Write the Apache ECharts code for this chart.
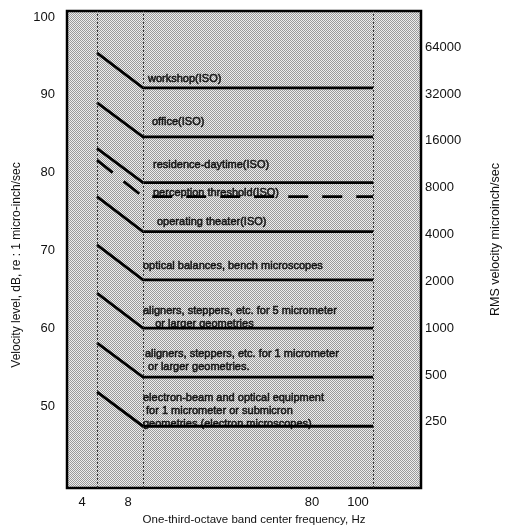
<!DOCTYPE html>
<html>
<head>
<meta charset="utf-8">
<script src="https://cdn.jsdelivr.net/npm/echarts@6/dist/echarts.min.js"></script>
<style>html,body{margin:0;padding:0;background:#fff}#c{width:505px;height:527px}</style>
</head>
<body>
<div id="c"></div>
<script>
// ---- data ----
const bandLabels = ['', '4', '8', '', '', '', '80', '100', ''];
const slopeStartHz = '4';
const kneeHz = '8';
const endHz = '100';
const guideFreqs = ['4', '8', '100'];

const curveNames = [
  'workshop(ISO)', 'office(ISO)', 'residence-daytime(ISO)', 'perception threshold(ISO)',
  'operating theater(ISO)', 'optical balances', 'aligners 5um', 'aligners 1um', 'electron-beam'
];
const startLevels = [95.4, 89.0, 83.1, 81.6, 76.9, 70.7, 64.5, 58.1, 51.8];
const flatLevels  = [90.9, 84.6, 78.7, 76.9, 72.4, 66.2, 60.0, 53.7, 47.4];

const annotationTexts = [
  'workshop(ISO)',
  'office(ISO)',
  'residence-daytime(ISO)',
  'perception threshold(ISO)',
  'operating theater(ISO)',
  'optical balances, bench microscopes',
  'aligners, steppers, etc. for 5 micrometer\n    or larger geometries',
  'aligners, steppers, etc. for 1 micrometer\n or larger geometries.',
  'electron-beam and optical equipment\n for 1 micrometer or submicron\ngeometries (electron microscopes)'
];

const leftTicks = [50, 60, 70, 80, 90, 100];
const rightTicks = [250, 500, 1000, 2000, 4000, 8000, 16000, 32000, 64000];

// ---- layout / style ----
const dbMin = 39.46, dbMax = 100.77;
const rMin = Math.pow(10, dbMin / 20), rMax = Math.pow(10, dbMax / 20);
const FONT = 'Liberation Sans, Arial, sans-serif';
const annotationOffsets = [[5, -9], [9, -15], [10, -18], [10, -4], [14, -10], [0, -13.5], [0, -11], [2, -16.5], [0, -15]];

const pat = document.createElement('canvas');
pat.width = 2; pat.height = 2;
const g = pat.getContext('2d');
g.fillStyle = '#ededed'; g.fillRect(0, 0, 2, 2);
g.fillStyle = '#9a9a9a'; g.fillRect(0, 0, 1, 1); g.fillRect(1, 1, 1, 1);

const series = curveNames.map((n, i) => ({
  name: n, type: 'line', xAxisIndex: 1, yAxisIndex: 2, symbol: 'none', silent: true, z: 3,
  data: [[slopeStartHz, startLevels[i]], [kneeHz, flatLevels[i]], [endHz, flatLevels[i]]],
  lineStyle: { color: '#000', width: 2.8, type: i === 3 ? [20, 14] : 'solid', cap: 'butt', join: 'miter' }
}));
series[0].markLine = {
  silent: true, symbol: 'none', label: { show: false },
  lineStyle: { color: '#333', width: 1, type: [2, 2] },
  data: guideFreqs.map(f => ({ xAxis: f }))
};
series.push({
  type: 'scatter', xAxisIndex: 1, yAxisIndex: 2, symbolSize: 0, silent: true, z: 5,
  data: annotationTexts.map((t, i) => ({ value: [kneeHz, flatLevels[i]], label: { offset: annotationOffsets[i] } })),
  label: {
    show: true, position: 'right', distance: 0, align: 'left', verticalAlign: 'middle',
    formatter: p => annotationTexts[p.dataIndex],
    fontSize: 11, lineHeight: 13, color: '#000', fontFamily: FONT,
    textBorderColor: '#000', textBorderWidth: 0.6
  }
});

const chart = echarts.init(document.getElementById('c'), null, { renderer: 'canvas' });
chart.setOption({
  animation: false,
  backgroundColor: '#fff',
  grid: [
    { left: 67, top: 11, width: 354, height: 477, show: true, outerBoundsMode: 'none',
      backgroundColor: { image: pat, repeat: 'repeat' }, borderColor: '#000', borderWidth: 2.5 },
    { left: 51, top: 11, width: 368, height: 477, show: false, outerBoundsMode: 'none' }
  ],
  xAxis: [
    { type: 'value', gridIndex: 0, show: false, min: 0, max: 1 },
    { type: 'category', gridIndex: 1, data: bandLabels, boundaryGap: false,
      axisLine: { show: false }, axisTick: { show: false }, splitLine: { show: false },
      axisLabel: { interval: 0, margin: 8, fontSize: 13, color: '#111', fontFamily: FONT, padding: [0, 30, 0, 0] },
      name: 'One-third-octave band center frequency, Hz', nameLocation: 'middle', nameGap: 25,
      nameTextStyle: { fontSize: 11.5, color: '#111', fontFamily: FONT, padding: [0, 0, 0, 38] } }
  ],
  yAxis: [
    { type: 'value', gridIndex: 0, min: dbMin, max: dbMax,
      axisLine: { show: false }, axisTick: { show: false }, splitLine: { show: false },
      axisLabel: { customValues: leftTicks, margin: 12, fontSize: 13, color: '#111', fontFamily: FONT },
      name: 'Velocity level, dB, re : 1 micro-inch/sec', nameLocation: 'middle', nameRotate: 90, nameGap: 44,
      nameTextStyle: { fontSize: 12, color: '#111', fontFamily: FONT, padding: [0, 31, 0, 0] } },
    { type: 'log', gridIndex: 0, position: 'right', min: rMin, max: rMax,
      axisLine: { show: false }, axisTick: { show: false }, splitLine: { show: false },
      axisLabel: { customValues: rightTicks, margin: 4, fontSize: 13, color: '#111', fontFamily: FONT,
        formatter: v => String(Math.round(v)) },
      name: 'RMS velocity microinch/sec', nameLocation: 'middle', nameRotate: 90, nameGap: 68,
      nameTextStyle: { fontSize: 12.5, color: '#111', fontFamily: FONT, padding: [0, 0, 0, 20] } },
    { type: 'value', gridIndex: 1, min: dbMin, max: dbMax, show: false }
  ],
  series: series
});
</script>
</body>
</html>
